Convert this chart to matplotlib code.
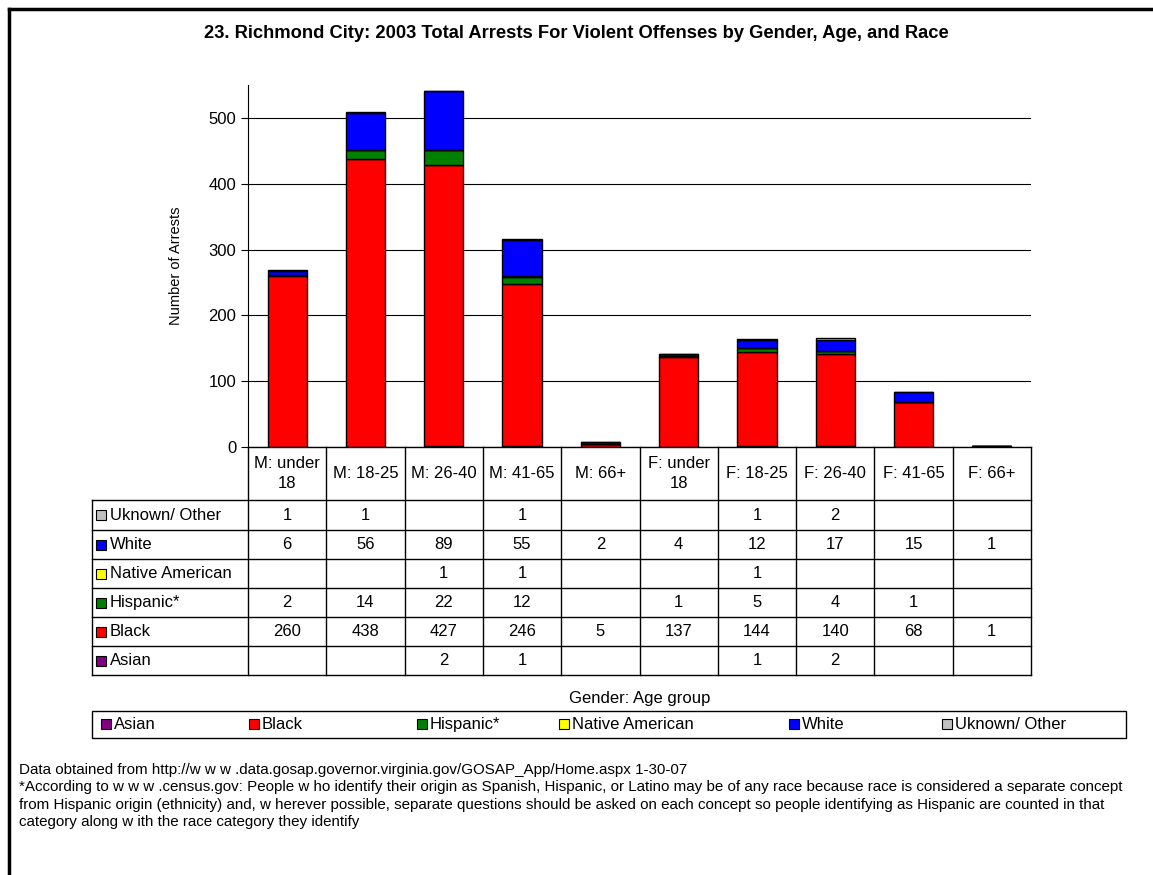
import numpy as np
import matplotlib.pyplot as plt
from matplotlib.patches import Rectangle

plt.rcParams['font.family'] = ['Liberation Sans', 'DejaVu Sans']

groups = ["M: under\n18", "M: 18-25", "M: 26-40", "M: 41-65", "M: 66+",
          "F: under\n18", "F: 18-25", "F: 26-40", "F: 41-65", "F: 66+"]
races = ["Asian", "Black", "Hispanic*", "Native American", "White", "Uknown/ Other"]
colors = ["#800080", "#ff0000", "#008000", "#ffff00", "#0000ff", "#c0c0c0"]

asian = [0, 0, 2, 1, 0, 0, 1, 2, 0, 0]
black = [260, 438, 427, 246, 5, 137, 144, 140, 68, 1]
hispanic = [2, 14, 22, 12, 0, 1, 5, 4, 1, 0]
native = [0, 0, 1, 1, 0, 0, 1, 0, 0, 0]
white = [6, 56, 89, 55, 2, 4, 12, 17, 15, 1]
unknown = [1, 1, 0, 1, 0, 0, 1, 2, 0, 0]
series = [asian, black, hispanic, native, white, unknown]

W, H = 1153, 875
fig = plt.figure(figsize=(W / 100, H / 100), dpi=100)

def fx(px):
    return px / W

def fy(py):
    return 1 - py / H

# outer frame
fig.add_artist(plt.Line2D([fx(9), fx(9)], [fy(9), 0], color="black", lw=2.5))
fig.add_artist(plt.Line2D([fx(9), 1], [fy(9), fy(9)], color="black", lw=2.5))

ax_l, ax_r, ax_t, ax_b = 248, 1031, 85, 447
ax = fig.add_axes([fx(ax_l), fy(ax_b), fx(ax_r - ax_l), fy(ax_t) - fy(ax_b)])

x = np.arange(len(groups))
bottom = np.zeros(len(groups))
for vals, c, name in zip(series, colors, races):
    ax.bar(x, vals, 0.5, bottom=bottom, color=c, edgecolor="black", linewidth=1, label=name)
    bottom += np.array(vals)

ax.set_xlim(-0.5, len(groups) - 0.5)
ax.set_ylim(0, 550)
ax.set_yticks([0, 100, 200, 300, 400, 500])
ax.yaxis.grid(True, color="black", lw=0.8)
ax.set_axisbelow(True)
for s in ["top", "right", "bottom"]:
    ax.spines[s].set_visible(False)
ax.spines["left"].set_linewidth(0.8)
ax.set_xticks([])
ax.tick_params(axis="y", labelsize=12, length=5, width=0.8)
ax.set_ylabel("Number of Arrests", fontsize=10.5, labelpad=18)

fig.text(0.5, fy(33), "23. Richmond City: 2003 Total Arrests For Violent Offenses by Gender, Age, and Race",
         ha="center", va="center", fontsize=13.2, fontweight="bold")

# data table below the axes
col_w = (ax_r - ax_l) / len(groups)
row_edges = [447, 500, 530, 559, 588, 617, 646, 675]
lab_l = 92

def hline(y, x0, x1):
    fig.add_artist(plt.Line2D([fx(x0), fx(x1)], [fy(y), fy(y)], color="black", lw=1))

def vline(xp, y0, y1):
    fig.add_artist(plt.Line2D([fx(xp), fx(xp)], [fy(y0), fy(y1)], color="black", lw=1))

hline(447, ax_l, ax_r)
for y in row_edges[1:]:
    hline(y, lab_l, ax_r)
vline(lab_l, 500, 675)
for i in range(len(groups) + 1):
    vline(ax_l + i * col_w, 447, 675)

for i, g in enumerate(groups):
    fig.text(fx(ax_l + (i + 0.5) * col_w), fy((447 + 500) / 2), g, ha="center", va="center",
             fontsize=12, linespacing=1.35)

table_rows = list(zip(races, colors, series))[::-1]
for r, (name, c, vals) in enumerate(table_rows):
    y0, y1 = row_edges[r + 1], row_edges[r + 2]
    yc = (y0 + y1) / 2
    fig.add_artist(Rectangle((fx(96), fy(yc + 5)), fx(10), fy(yc - 5) - fy(yc + 5),
                             facecolor=c, edgecolor="black", lw=0.8))
    fig.text(fx(110), fy(yc), name, ha="left", va="center", fontsize=12)
    for i, v in enumerate(vals):
        if v:
            fig.text(fx(ax_l + (i + 0.5) * col_w), fy(yc), str(v), ha="center", va="center", fontsize=12)

fig.text(fx((ax_l + ax_r) / 2), fy(698), "Gender: Age group", ha="center", va="center", fontsize=12)

# legend box with entries spaced like the original
fig.add_artist(Rectangle((fx(92), fy(738)), fx(1126 - 92), fy(711) - fy(738),
                         facecolor="white", edgecolor="black", lw=1))
leg_x = [114, 262, 430, 572, 802, 955]
for name, c, lx in zip(races, colors, leg_x):
    fig.add_artist(Rectangle((fx(lx - 13), fy(729)), fx(10), fy(719) - fy(729),
                             facecolor=c, edgecolor="black", lw=0.8))
    fig.text(fx(lx), fy(724.5), name, ha="left", va="center", fontsize=12)

notes = [
    "Data obtained from http://w w w .data.gosap.governor.virginia.gov/GOSAP_App/Home.aspx 1-30-07",
    "*According to w w w .census.gov: People w ho identify their origin as Spanish, Hispanic, or Latino may be of any race because race is considered a separate concept",
    "from Hispanic origin (ethnicity) and, w herever possible, separate questions should be asked on each concept so people identifying as Hispanic are counted in that",
    "category along w ith the race category they identify",
]
for k, t in enumerate(notes):
    fig.text(fx(19), fy(770 + k * 17.3), t, ha="left", va="center", fontsize=10.9)

fig.savefig("out.png", dpi=100)
